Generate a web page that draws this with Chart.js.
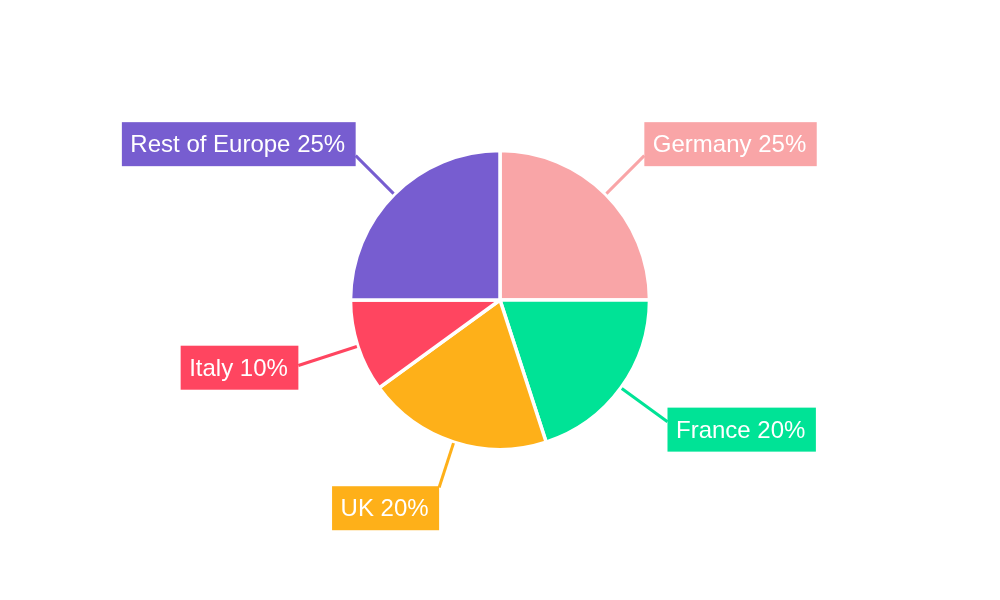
<!DOCTYPE html>
<html>
<head>
<meta charset="utf-8">
<script src="https://cdn.jsdelivr.net/npm/chart.js@4"></script>
<style>
html,body{margin:0;padding:0;background:#fff;}
#wrap{width:1000px;height:600px;position:relative;}
</style>
</head>
<body>
<div id="wrap"><canvas id="c" width="1000" height="600"></canvas></div>
<script>
const categories = ["Germany", "France", "UK", "Italy", "Rest of Europe"];
const shares = [25, 20, 20, 10, 25];
const colors = ["#F9A5A7", "#00E396", "#FEB019", "#FF4560", "#775DD0"];

const labelPlugin = {
  id: 'leaderLabels',
  afterDatasetsDraw(chart) {
    const ctx = chart.ctx;
    const meta = chart.getDatasetMeta(0);
    ctx.save();
    ctx.font = '24px "Liberation Sans", Arial, sans-serif';
    meta.data.forEach((arc, i) => {
      const p = arc.getProps(['x','y','startAngle','endAngle','outerRadius'], true);
      const mid = (p.startAngle + p.endAngle) / 2;
      const dx = Math.cos(mid), dy = Math.sin(mid);
      // leader lines end on an ellipse around the pie
      const ea = p.outerRadius + 64.5, eb = p.outerRadius + 46;
      const t = 1 / Math.sqrt((dx * dx) / (ea * ea) + (dy * dy) / (eb * eb));
      const r0 = p.outerRadius + 1;
      const sx = p.x + dx * r0, sy = p.y + dy * r0;
      const ex = p.x + dx * t, ey = p.y + dy * t;
      ctx.strokeStyle = colors[i];
      ctx.lineWidth = 3;
      ctx.beginPath();
      ctx.moveTo(sx, sy);
      ctx.lineTo(ex, ey);
      ctx.stroke();
      const text = categories[i] + ' ' + shares[i] + '%';
      const tw = ctx.measureText(text).width;
      const bw = tw + 19, bh = 44;
      const left = dx >= 0 ? ex : ex - bw;
      const cy = ey + dy * Math.abs(dy) * 23;
      ctx.fillStyle = colors[i];
      ctx.fillRect(left, cy - bh / 2, bw, bh);
      ctx.fillStyle = '#ffffff';
      ctx.textBaseline = 'middle';
      ctx.textAlign = 'left';
      ctx.fillText(text, left + 8.5, cy + 1.5);
    });
    ctx.restore();
  }
};

new Chart(document.getElementById('c'), {
  type: 'pie',
  data: {
    labels: categories,
    datasets: [{
      data: shares,
      backgroundColor: colors,
      borderColor: '#ffffff',
      borderWidth: 3.5
    }]
  },
  options: {
    responsive: false,
    animation: false,
    radius: 149.5,
    layout: { padding: 0 },
    plugins: {
      legend: { display: false },
      tooltip: { enabled: false }
    }
  },
  plugins: [labelPlugin]
});
</script>
</body>
</html>
